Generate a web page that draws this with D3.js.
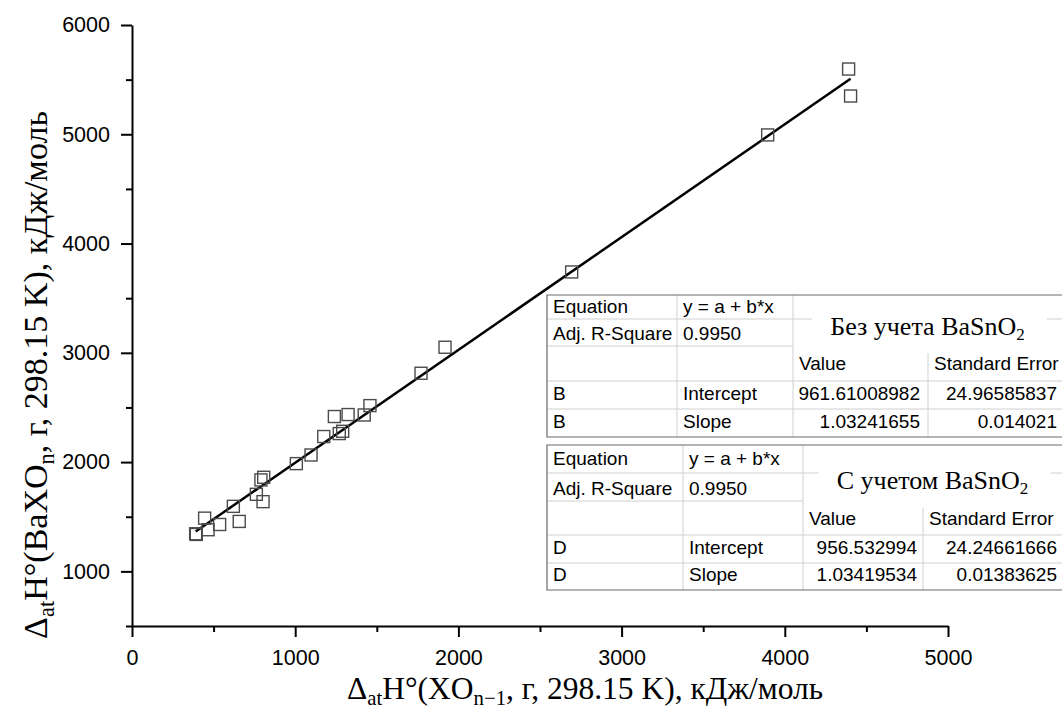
<!DOCTYPE html>
<html>
<head>
<meta charset="utf-8">
<script src="https://cdn.jsdelivr.net/npm/d3@7"></script>
<style>
  body { margin: 0; background: #fff; }
  svg { display: block; }
</style>
</head>
<body>
<svg id="chart" width="1062" height="711"></svg>
<script>
//Data
const xVals = [390, 394, 466, 445, 537, 657, 621, 803, 762, 790, 807, 1007, 1097, 1175, 1270, 1291,
  1240, 1324, 1423, 1458, 1771, 1918, 2694, 3895, 4391, 4403];
const yVals = [1344, 1338, 1381, 1487, 1429, 1457, 1595, 1638, 1705, 1837, 1861, 1986, 2065, 2234, 2261, 2282,
  2417, 2435, 2431, 2517, 2813, 3051, 3740, 4994, 5597, 5350];

const xTicks = [0, 1000, 2000, 3000, 4000, 5000];
const xMinorTicks = [500, 1500, 2500, 3500, 4500];
const yTicks = [1000, 2000, 3000, 4000, 5000, 6000];
const yMinorTicks = [500, 1500, 2500, 3500, 4500, 5500];

//Fit tables
const fitNames = ["Без учета", "С учетом"];
const fitRowLabels = ["B", "D"];
const fitIntercepts = ["961.61008982", "956.532994"];
const fitInterceptErrs = ["24.96585837", "24.24661666"];
const fitSlopes = ["1.03241655", "1.03419534"];
const fitSlopeErrs = ["0.014021", "0.01383625"];
const fitR2 = ["0.9950", "0.9950"];

const svg = d3.select("#chart");

const x = d3.scaleLinear().domain([0, 5000]).range([132, 948]);
const y = d3.scaleLinear().domain([500, 6000]).range([626, 25]);

//Axes (major + minor)
const axisFont = "'Liberation Sans', Arial, sans-serif";

const gx = svg.append("g").attr("transform", "translate(0,626)");
gx.call(d3.axisBottom(x).tickValues(xTicks).tickSize(11).tickSizeOuter(0).tickPadding(13).tickFormat(d3.format("d")));
gx.append("g").call(d3.axisBottom(x).tickValues(xMinorTicks).tickSize(6).tickFormat(""))
  .select(".domain").remove();

const gy = svg.append("g").attr("transform", "translate(132,0)");
gy.call(d3.axisLeft(y).tickValues(yTicks).tickSize(11).tickSizeOuter(0).tickPadding(11).tickFormat(d3.format("d")));
gy.append("g").call(d3.axisLeft(y).tickValues(yMinorTicks).tickSize(6).tickFormat(""))
  .select(".domain").remove();

svg.selectAll(".domain").attr("stroke", "#000").attr("stroke-width", 2);
svg.selectAll(".tick line").attr("stroke", "#000").attr("stroke-width", 2);
svg.selectAll(".tick text")
  .attr("fill", "#000")
  .style("font-family", axisFont)
  .style("font-size", "21.5px");

//Axis titles with subscripts
function richText(sel, parts, size) {
  parts.forEach(([t, kind]) => {
    const ts = sel.append("tspan").text(t);
    if (kind === "sub") {
      ts.style("font-size", (size * 0.66) + "px").attr("dy", size * 0.2);
    } else if (kind === "back") {
      ts.attr("dy", -size * 0.2);
    }
  });
}

const serif = "'Liberation Serif', 'Times New Roman', serif";

const xLabel = svg.append("text")
  .attr("x", 585).attr("y", 699)
  .attr("text-anchor", "middle")
  .style("font-family", serif).style("font-size", "31.5px");
richText(xLabel, [["Δ"], ["at", "sub"], ["H°(XO", "back"], ["n−1", "sub"], [", г, 298.15 K), кДж/моль", "back"]], 31.5);

const yLabel = svg.append("text")
  .attr("transform", "translate(47,375) rotate(-90)")
  .attr("text-anchor", "middle")
  .style("font-family", serif).style("font-size", "34px");
richText(yLabel, [["Δ"], ["at", "sub"], ["H°(BaXO", "back"], ["n", "sub"], [", г, 298.15 K), кДж/моль", "back"]], 34);

//Regression line (first fit), from min to max x
const a = +fitIntercepts[0], b = +fitSlopes[0];
const xr = d3.extent(xVals);
svg.append("path")
  .attr("d", d3.line()([[x(xr[0]), y(a + b * xr[0])], [x(xr[1]), y(a + b * xr[1])]]))
  .attr("stroke", "#000").attr("stroke-width", 2.5).attr("fill", "none");

//Points
const sq = 12;
svg.append("g").selectAll("rect")
  .data(xVals.map((v, i) => [v, yVals[i]]))
  .join("rect")
  .attr("x", d => x(d[0]) - sq / 2)
  .attr("y", d => y(d[1]) - sq / 2)
  .attr("width", sq).attr("height", sq)
  .attr("fill", "none")
  .attr("stroke", "#4a4a4a")
  .attr("stroke-width", 1.4);

//Fit tables
const sans = "'Liberation Sans', Arial, sans-serif";

function drawTable(i, cols, rows, numRight) {
  const g = svg.append("g");
  const right = 1070;
  g.append("rect")
    .attr("x", cols[0]).attr("y", rows[0])
    .attr("width", right - cols[0]).attr("height", rows[5] - rows[0])
    .attr("fill", "#fff");

  const light = "#d0d0d0";
  //horizontal lines
  [rows[1], rows[3], rows[4]].forEach(r => {
    g.append("line").attr("x1", cols[0]).attr("x2", right).attr("y1", r).attr("y2", r)
      .attr("stroke", light);
  });
  g.append("line").attr("x1", cols[0]).attr("x2", cols[2]).attr("y1", rows[2]).attr("y2", rows[2])
    .attr("stroke", light);
  //vertical lines
  [cols[1], cols[2]].forEach(c => {
    g.append("line").attr("x1", c).attr("x2", c).attr("y1", rows[0]).attr("y2", rows[5])
      .attr("stroke", light);
  });
  g.append("line").attr("x1", cols[3]).attr("x2", cols[3]).attr("y1", rows[2]).attr("y2", rows[5])
    .attr("stroke", light);

  //outer border
  g.append("path")
    .attr("d", `M${right},${rows[0]}H${cols[0]}V${rows[5]}H${right}`)
    .attr("fill", "none").attr("stroke", "#6a6a6a").attr("stroke-width", 1.2);

  const mid = k => (rows[k] + rows[k + 1]) / 2;
  const cell = (tx, ty, t, anchor) => g.append("text")
    .attr("x", tx).attr("y", ty).attr("dy", "0.35em")
    .attr("text-anchor", anchor || "start")
    .style("font-family", sans).style("font-size", "19px").attr("fill", "#000")
    .text(t);

  cell(cols[0] + 6, mid(0) - 1, "Equation");
  cell(cols[1] + 6, mid(0) - 1, "y = a + b*x");
  cell(cols[0] + 6, mid(1) + 1, "Adj. R-Square");
  cell(cols[1] + 6, mid(1) + 1, fitR2[i]);
  cell(cols[2] + 6, mid(2), "Value");
  cell(cols[3] + 6, mid(2), "Standard Error");
  cell(cols[0] + 6, mid(3) - 2, fitRowLabels[i]);
  cell(cols[1] + 6, mid(3) - 2, "Intercept");
  cell(numRight, mid(3) - 2, fitIntercepts[i], "end");
  cell(1057, mid(3) - 2, fitInterceptErrs[i], "end");
  cell(cols[0] + 6, mid(4) - 2, fitRowLabels[i]);
  cell(cols[1] + 6, mid(4) - 2, "Slope");
  cell(numRight, mid(4) - 2, fitSlopes[i], "end");
  cell(1057, mid(4) - 2, fitSlopeErrs[i], "end");

  //title in merged cell
  const bg = g.append("rect").attr("fill", "#fff");
  const title = g.append("text")
    .attr("x", (cols[2] + 1062) / 2).attr("y", rows[1] + 16)
    .attr("text-anchor", "middle")
    .style("font-family", serif).style("font-size", "26px").attr("fill", "#000");
  title.append("tspan").text(fitNames[i] + " BaSnO");
  title.append("tspan").text("2").style("font-size", "17px").attr("dy", 5);
  const bb = title.node().getBBox();
  bg.attr("x", bb.x - 18).attr("y", rows[0] + 3)
    .attr("width", bb.width + 40).attr("height", rows[2] - rows[0] + 4);
}

drawTable(0, [547, 677, 793, 928], [295, 319, 346, 381, 409, 437], 920);
drawTable(1, [547, 683, 803, 923], [445, 473, 501, 535, 563, 590], 917);
</script>
</body>
</html>
